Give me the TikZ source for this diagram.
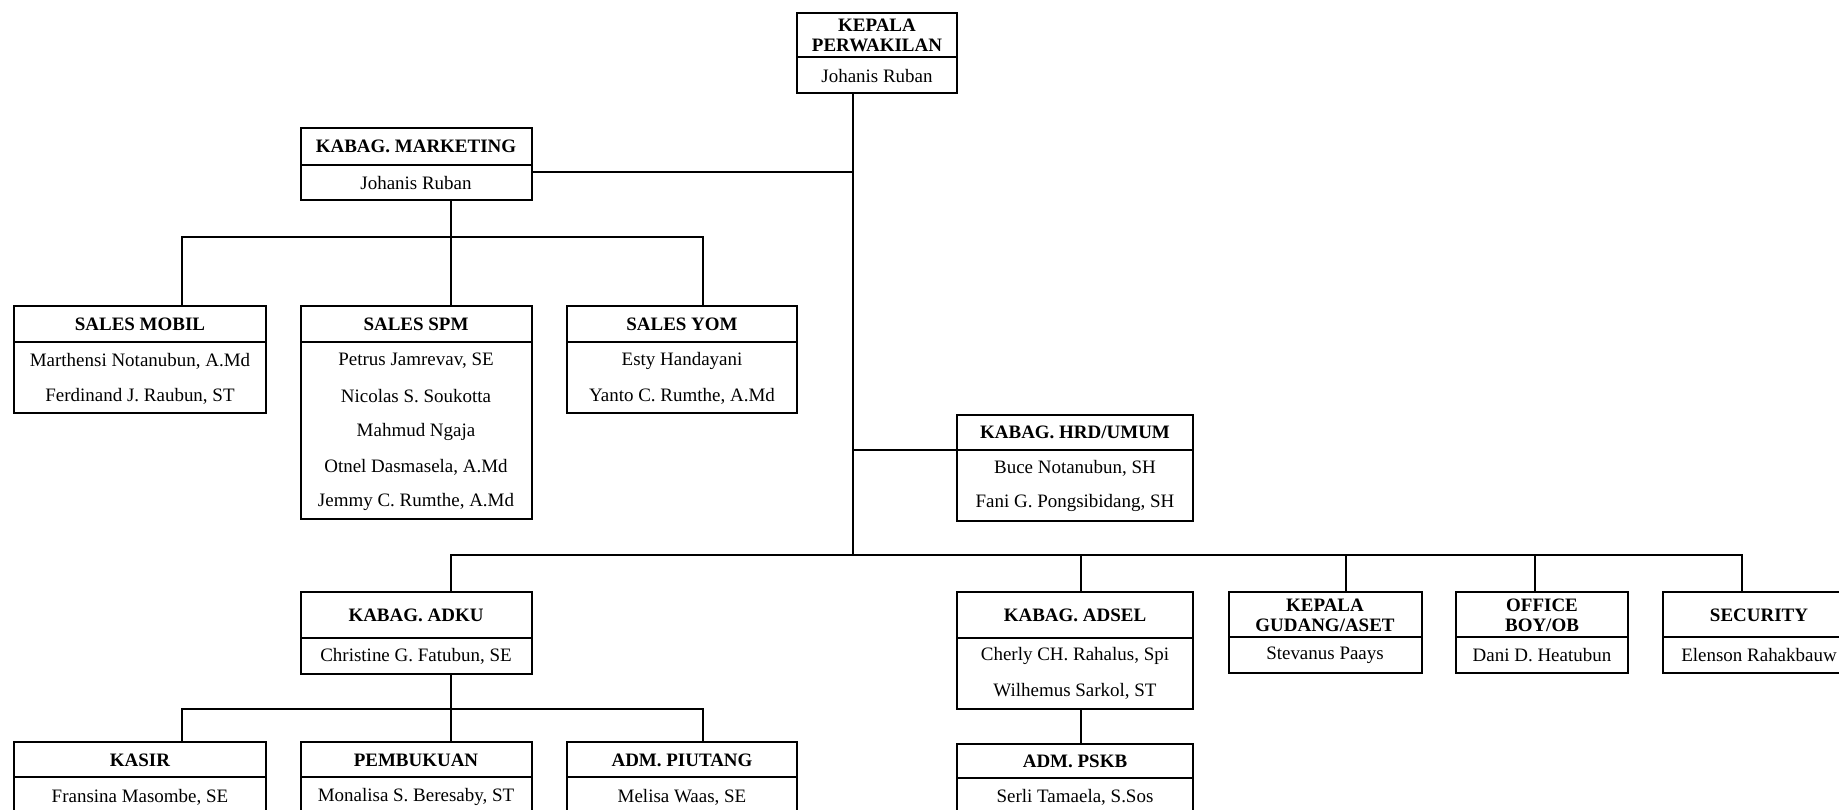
\documentclass[tikz,border=0pt]{standalone}
\usepackage{fontspec}
\setmainfont{Liberation Serif}
\usetikzlibrary{fit}
\tikzset{
  ln/.style={line width=1pt, black},
  ttl/.style={font=\fontsize{10.8}{11.5}\selectfont\bfseries, align=center, inner sep=0pt},
  nm/.style={font=\fontsize{10.8}{12}\selectfont, inner sep=0pt},
}
\newcommand\obox[6]{%
  \node[ln, draw, fit={(#2,#3) (#4,#5)}, inner sep=0pt, outer sep=0pt] (#1) {};
  \draw[ln] (#1.west |- 0,#6) -- (#1.east |- 0,#6);
}
\begin{document}
\begin{tikzpicture}[x=0.02cm, y=-0.02cm]
\path[use as bounding box] (0,0) rectangle (1839,810);
\clip (0,0) rectangle (1839,810);

% boxes
\obox{kep}{797}{13}{957}{93}{57}
\obox{mkt}{301}{128}{532}{200}{165}
\obox{mobil}{14}{306}{266}{413}{342}
\obox{spm}{301}{306}{532}{519}{342}
\obox{yom}{567}{306}{797}{413}{342}
\obox{hrd}{957}{415}{1193}{521}{450}
\obox{adku}{301}{592}{532}{674}{638}
\obox{adsel}{957}{592}{1193}{709}{638}
\obox{gud}{1229}{592}{1422}{673}{637}
\obox{ob}{1456}{592}{1628}{673}{637}
\obox{sec}{1663}{592}{1856}{673}{637}
\obox{kasir}{14}{742}{266}{814}{777}
\obox{pemb}{301}{742}{532}{814}{777}
\obox{piut}{567}{742}{797}{814}{777}
\obox{pskb}{957}{744}{1193}{814}{778}

% texts
\node[ttl] (kep-t) at (877,35) {KEPALA\\PERWAKILAN};
\node[nm] (kep-n) at (877,76) {Johanis Ruban};
\node[ttl] (mkt-t) at (416,146) {KABAG. MARKETING};
\node[nm] (mkt-n) at (416,183) {Johanis Ruban};
\node[ttl] (mobil-t) at (140,324) {SALES MOBIL};
\node[nm] (mobil-1) at (140,361) {Marthensi Notanubun, A.Md};
\node[nm] (mobil-2) at (140,396) {Ferdinand J. Raubun, ST};
\node[ttl] (spm-t) at (416,324) {SALES SPM};
\node[nm] (spm-1) at (416,361) {Petrus Jamrevav, SE};
\node[nm] (spm-2) at (416,396) {Nicolas S. Soukotta};
\node[nm] (spm-3) at (416,432) {Mahmud Ngaja};
\node[nm] (spm-4) at (416,467) {Otnel Dasmasela, A.Md};
\node[nm] (spm-5) at (416,502) {Jemmy C. Rumthe, A.Md};
\node[ttl] (yom-t) at (682,324) {SALES YOM};
\node[nm] (yom-1) at (682,361) {Esty Handayani};
\node[nm] (yom-2) at (682,396) {Yanto C. Rumthe, A.Md};
\node[ttl] (hrd-t) at (1075,432) {KABAG. HRD/UMUM};
\node[nm] (hrd-1) at (1075,468) {Buce Notanubun, SH};
\node[nm] (hrd-2) at (1075,503) {Fani G. Pongsibidang, SH};
\node[ttl] (adku-t) at (416,615) {KABAG. ADKU};
\node[nm] (adku-1) at (416,656) {Christine G. Fatubun, SE};
\node[ttl] (adsel-t) at (1075,615) {KABAG. ADSEL};
\node[nm] (adsel-1) at (1075,656) {Cherly CH. Rahalus, Spi};
\node[nm] (adsel-2) at (1075,691) {Wilhemus Sarkol, ST};
\node[ttl] (gud-t) at (1325,615) {KEPALA\\GUDANG/ASET};
\node[nm] (gud-1) at (1325,655) {Stevanus Paays};
\node[ttl] (ob-t) at (1542,615) {OFFICE\\BOY/OB};
\node[nm] (ob-1) at (1542,655) {Dani D. Heatubun};
\node[ttl] (sec-t) at (1759,615) {SECURITY};
\node[nm] (sec-1) at (1759,655) {Elenson Rahakbauw};
\node[ttl] (kasir-t) at (140,760) {KASIR};
\node[nm] (kasir-1) at (140,797) {Fransina Masombe, SE};
\node[ttl] (pemb-t) at (416,760) {PEMBUKUAN};
\node[nm] (pemb-1) at (416,797) {Monalisa S. Beresaby, ST};
\node[ttl] (piut-t) at (682,760) {ADM. PIUTANG};
\node[nm] (piut-1) at (682,797) {Melisa Waas, SE};
\node[ttl] (pskb-t) at (1075,761) {ADM. PSKB};
\node[nm] (pskb-1) at (1075,797) {Serli Tamaela, S.Sos};

% connector points
\coordinate (trunk) at (853,555);
\coordinate (jm) at (853,172);
\coordinate (jh) at (853,450);
\coordinate (mb) at (451,237);
\coordinate (ab) at (451,709);

% connectors
\draw[ln] (kep.south -| trunk) -- (trunk);
\draw[ln] (mkt.east |- jm) -- (jm);
\draw[ln] (jh) -- (hrd.west |- jh);
\draw[ln] (mkt.south -| mb) -- (mb) -- (spm.north -| mb);
\draw[ln] (mobil.north -| 182,0) -- (182,237) -- (703,237) -- (yom.north -| 703,0);
\draw[ln] (adku.north -| 451,0) -- (451,555) -- (1742,555) -- (sec.north -| 1742,0);
\draw[ln] (1081,555) -- (adsel.north -| 1081,0);
\draw[ln] (1346,555) -- (gud.north -| 1346,0);
\draw[ln] (1535,555) -- (ob.north -| 1535,0);
\draw[ln] (adku.south -| ab) -- (ab) -- (pemb.north -| ab);
\draw[ln] (kasir.north -| 182,0) -- (182,709) -- (703,709) -- (piut.north -| 703,0);
\draw[ln] (adsel.south -| 1081,0) -- (pskb.north -| 1081,0);
\end{tikzpicture}
\end{document}
